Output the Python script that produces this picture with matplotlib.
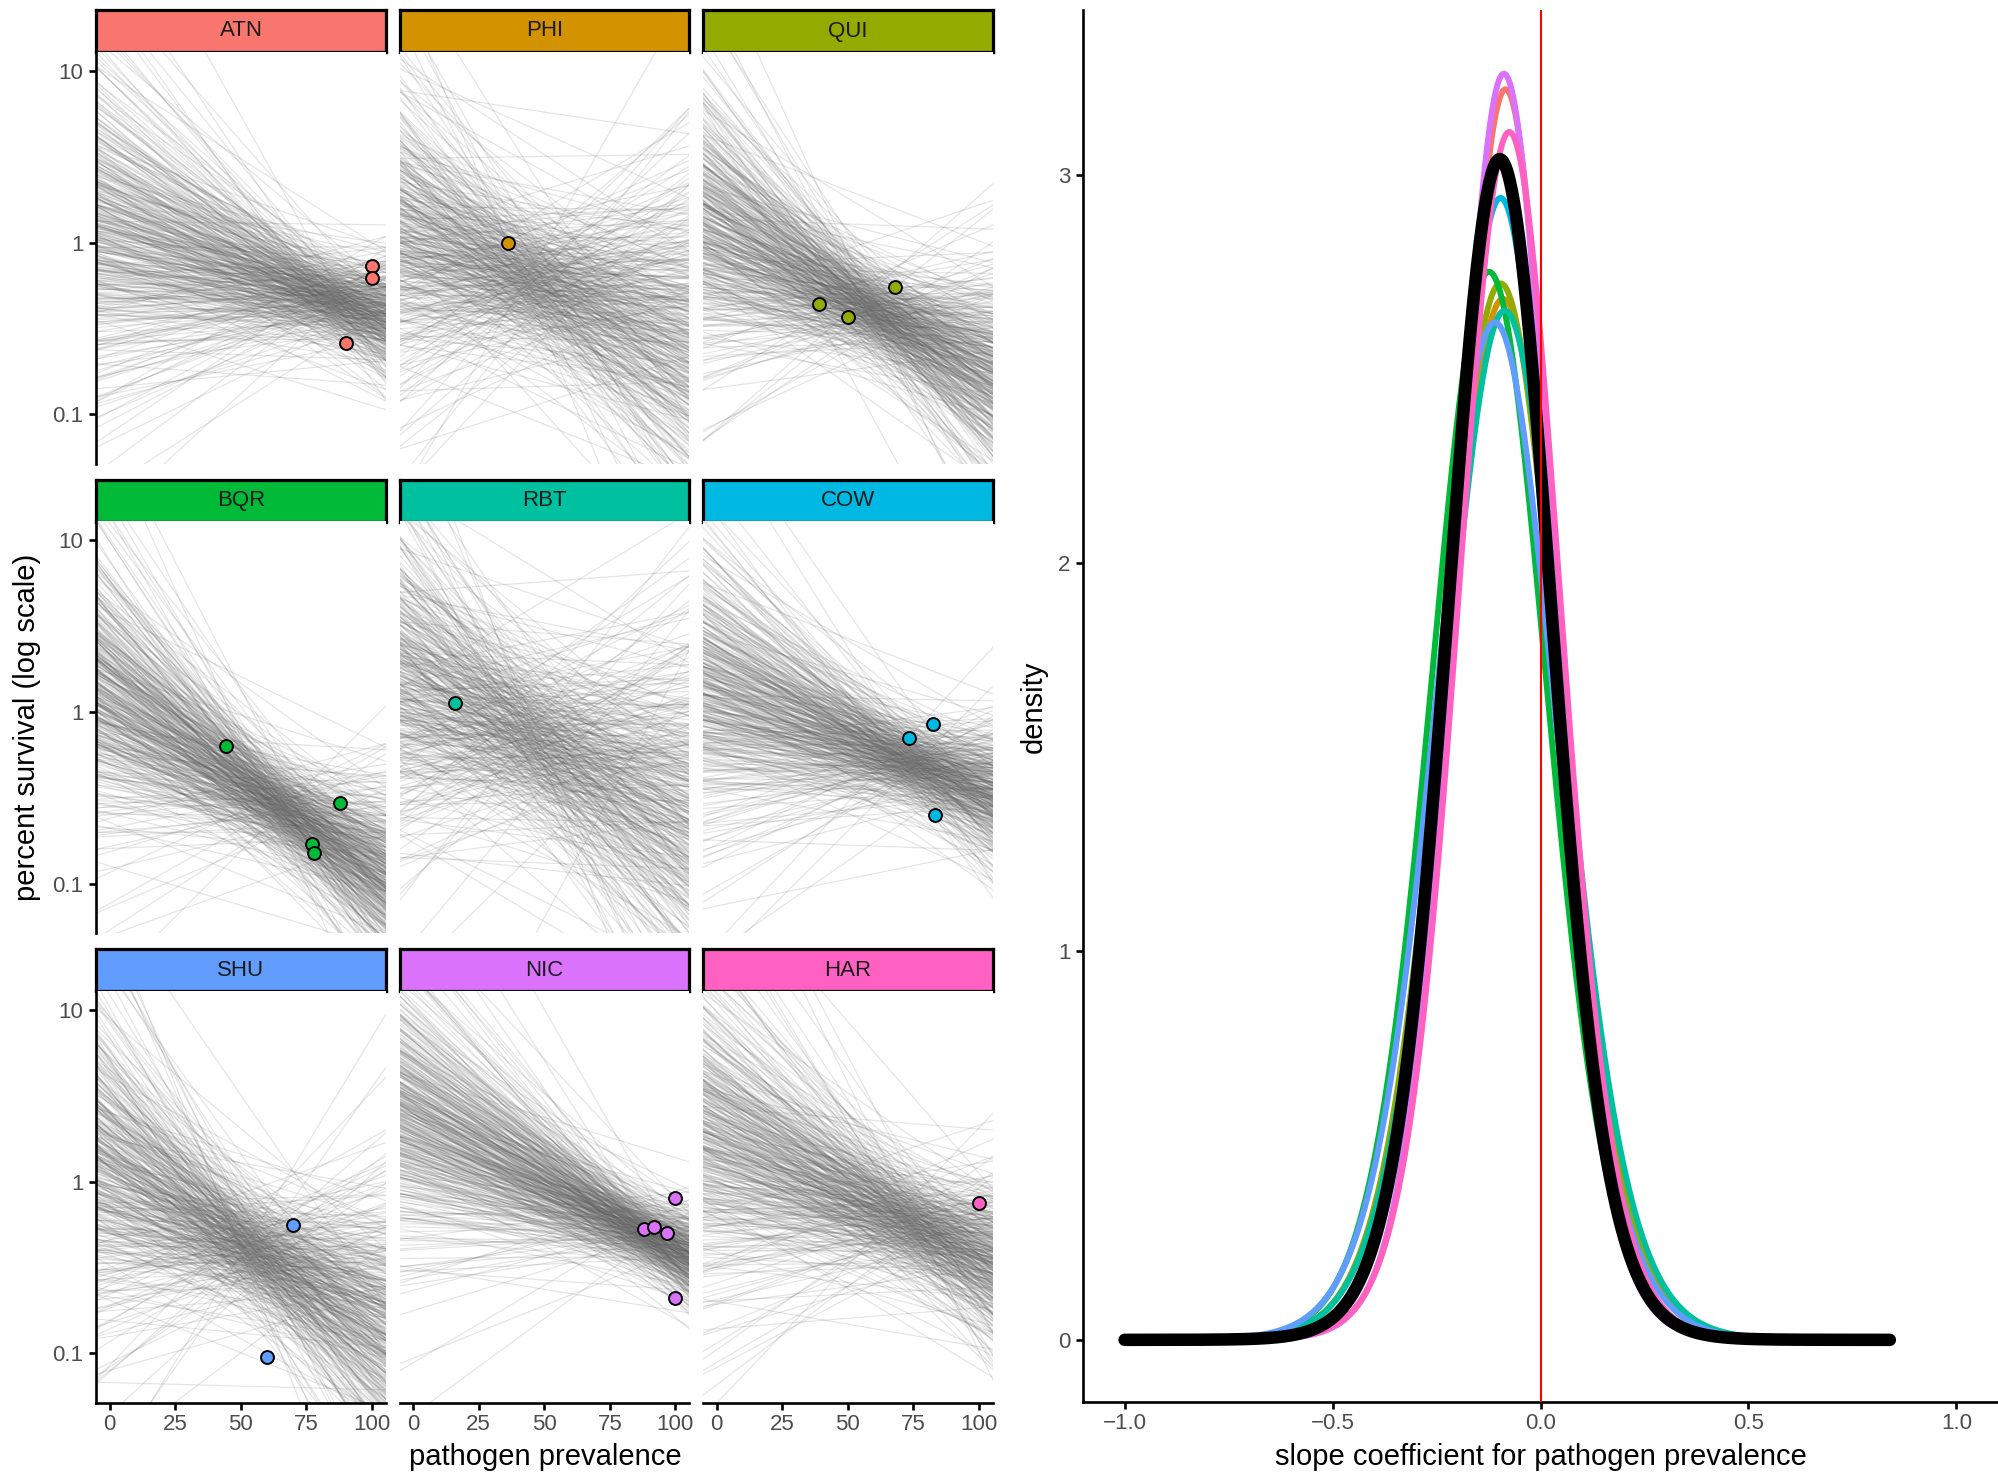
import numpy as np
import matplotlib
matplotlib.use("Agg")
import matplotlib.pyplot as plt
from matplotlib.collections import LineCollection
from statistics import NormalDist
from math import lgamma, exp, pi, sqrt

plt.rcParams['font.family'] = ['Liberation Sans', 'DejaVu Sans']

# ---------------- data ----------------
sites = ['ATN', 'PHI', 'QUI', 'BQR', 'RBT', 'COW', 'SHU', 'NIC', 'HAR']
site_colors = ['#F8766D', '#D39200', '#93AA00', '#00BA38', '#00C19F',
               '#00B9E3', '#619CFF', '#DB72FB', '#FF61C3']

# observed survival per site (pathogen prevalence %, percent survival)
obs_site = ['ATN', 'ATN', 'ATN', 'PHI', 'QUI', 'QUI', 'QUI',
            'BQR', 'BQR', 'BQR', 'BQR', 'RBT', 'COW', 'COW', 'COW',
            'SHU', 'SHU', 'NIC', 'NIC', 'NIC', 'NIC', 'NIC', 'HAR']
obs_prev = [100, 100, 90, 36, 39, 50, 68,
            44.5, 88, 77.3, 78, 16, 73.3, 82.5, 83.2,
            70, 60, 88, 92, 97, 100, 100, 100]
obs_surv = [0.73, 0.62, 0.26, 1.0, 0.44, 0.37, 0.55,
            0.63, 0.297, 0.171, 0.152, 1.13, 0.71, 0.855, 0.25,
            0.56, 0.095, 0.53, 0.54, 0.50, 0.80, 0.21, 0.75]

# posterior regression fan per site (log10 survival)
fan_pivot_prev = [85, 45, 60, 65, 45, 75, 55, 88, 75]
fan_pivot_log = [-0.33, -0.22, -0.40, -0.55, -0.15, -0.30, -0.40, -0.30, -0.25]
fan_pivot_sd = [0.12, 0.20, 0.13, 0.13, 0.24, 0.12, 0.16, 0.10, 0.15]
fan_slope_mean = [-0.45, -0.50, -0.75, -0.95, -0.65, -0.55, -0.80, -0.75, -0.65]
fan_slope_sd = [0.47, 0.64, 0.53, 0.50, 0.70, 0.44, 0.67, 0.39, 0.50]
n_draws = 400

# posterior density of slope coefficient (mode, peak height)
dens_mode = [-0.084, -0.090, -0.096, -0.124, -0.086, -0.096, -0.110, -0.088, -0.075]
dens_peak = [3.22, 2.68, 2.72, 2.75, 2.65, 2.94, 2.62, 3.26, 3.11]
overall_mode = -0.098
overall_peak = 3.04
dens_range = (-1.0, 0.84)

x_ticks_prev = [0, 25, 50, 75, 100]
y_ticks_surv = [0.1, 1, 10]
y_tick_labels = ['0.1', '1', '10']

# ---------------- layout ----------------
W, H = 1998, 1476
fig = plt.figure(figsize=(W / 100, H / 100), dpi=100)


def rect(l, t, r, b):
    return [l / W, 1 - b / H, (r - l) / W, (b - t) / H]


def halton(n, base):
    f, r = 1.0, 0.0
    while n > 0:
        f /= base
        r += f * (n % base)
        n //= base
    return r


TICK_C = '#4D4D4D'
col_left = [96, 399.5, 703]
panel_w = 290
row_top = [10, 479.5, 949]
strip_h = 42
panel_h = 412

nd = NormalDist()
xline = np.array([-10.0, 110.0])
eps = 0.5 / n_draws

for k, site in enumerate(sites):
    r, c = divmod(k, 3)
    L = col_left[c]
    T = row_top[r]
    # strip
    sax = fig.add_axes(rect(L, T, L + panel_w, T + strip_h))
    sax.set_facecolor(site_colors[k])
    sax.set_xticks([]); sax.set_yticks([])
    for s in sax.spines.values():
        s.set_linewidth(2.3); s.set_color('black')
    sax.text(0.5, 0.5, site, ha='center', va='center', fontsize=16,
             color='#1A1A1A', transform=sax.transAxes)
    # panel
    ax = fig.add_axes(rect(L, T + strip_h, L + panel_w, T + strip_h + panel_h))
    ax.set_yscale('log')
    ax.set_xlim(-5.2, 105.4)
    ax.set_ylim(10 ** -1.29, 10 ** 1.11)
    segs = []
    for i in range(n_draws):
        u1 = (halton(i + 1 + 37 * k, 2) + 0.113 * k) % 1.0
        u2 = (halton(i + 1 + 37 * k, 3) + 0.271 * k) % 1.0
        u1 = min(max(u1, eps), 1 - eps); u2 = min(max(u2, eps), 1 - eps)
        z1 = nd.inv_cdf(u1); z2 = nd.inv_cdf(u2)
        z1 *= (1 + 0.07 * z1 ** 2); z2 *= (1 + 0.07 * z2 ** 2)
        a = fan_pivot_log[k] + fan_pivot_sd[k] * z1
        b = fan_slope_mean[k] + fan_slope_sd[k] * z2
        ylog = a + b * (xline - fan_pivot_prev[k]) / 100.0
        segs.append(np.column_stack([xline, 10 ** ylog]))
    lc = LineCollection(segs, colors='#606060', alpha=0.17, linewidths=0.85)
    ax.add_collection(lc)
    px = [p for s_, p in zip(obs_site, obs_prev) if s_ == site]
    py = [v for s_, v in zip(obs_site, obs_surv) if s_ == site]
    ax.plot(px, py, 'o', ms=9.3, mfc=site_colors[k], mec='black', mew=1.4,
            zorder=5, clip_on=False)
    ax.spines['top'].set_visible(False)
    ax.spines['right'].set_visible(False)
    ax.spines['left'].set_visible(c == 0)
    ax.spines['bottom'].set_visible(r == 2)
    for s in ax.spines.values():
        s.set_linewidth(1.9)
    ax.minorticks_off()
    ax.set_yticks(y_ticks_surv)
    ax.set_yticklabels(y_tick_labels)
    ax.set_xticks(x_ticks_prev)
    ax.tick_params(axis='both', length=5, width=1.9, labelsize=16,
                   labelcolor=TICK_C, color='black')
    ax.tick_params(axis='y', pad=4)
    ax.tick_params(axis='x', pad=3)
    if c != 0:
        ax.tick_params(axis='y', left=False, labelleft=False)
    if r != 2:
        ax.tick_params(axis='x', bottom=False, labelbottom=False)
    ax.set_facecolor('white')

fig.text(27 / W, 1 - 727 / H, 'percent survival (log scale)', rotation=90,
         ha='center', va='center', fontsize=21)
fig.text(545 / W, 1 - 1457 / H, 'pathogen prevalence', ha='center',
         va='center', fontsize=21)

# ---------------- density panel ----------------
dax = fig.add_axes(rect(1083, 10, 1998, 1402))
nu = 15.0
cnu = exp(lgamma((nu + 1) / 2) - lgamma(nu / 2)) / sqrt(nu * pi)
xs = np.linspace(dens_range[0], dens_range[1], 800)


def tcurve(mode, peak):
    s = cnu / peak
    z = (xs - mode) / s
    return peak * (1 + z ** 2 / nu) ** (-(nu + 1) / 2)


for k in range(len(sites)):
    dax.plot(xs, tcurve(dens_mode[k], dens_peak[k]), color=site_colors[k],
             lw=4.3, solid_capstyle='butt', zorder=2 + k * 0.01)
dax.plot(xs, tcurve(overall_mode, overall_peak), color='black', lw=9,
         solid_capstyle='round', zorder=3)
dax.axvline(0.0, color='red', lw=1.5, zorder=4)
dax.set_xlim(-1.1, 1.1)
dax.set_ylim(-0.16, 3.424)
dax.set_xticks([-1.0, -0.5, 0.0, 0.5, 1.0])
dax.set_xticklabels(['\u22121.0', '\u22120.5', '0.0', '0.5', '1.0'])
dax.set_yticks([0, 1, 2, 3])
dax.spines['top'].set_visible(False)
dax.spines['right'].set_visible(False)
for s in dax.spines.values():
    s.set_linewidth(1.9)
dax.tick_params(axis='both', length=5, width=1.9, labelsize=16,
                labelcolor=TICK_C, color='black')
dax.tick_params(axis='x', pad=3)
dax.tick_params(axis='y', pad=4)
fig.text(1034 / W, 1 - 707 / H, 'density', rotation=90, ha='center',
         va='center', fontsize=21)
fig.text(1541 / W, 1 - 1457 / H, 'slope coefficient for pathogen prevalence',
         ha='center', va='center', fontsize=21)

fig.savefig('out.png', dpi=100, facecolor='white')
